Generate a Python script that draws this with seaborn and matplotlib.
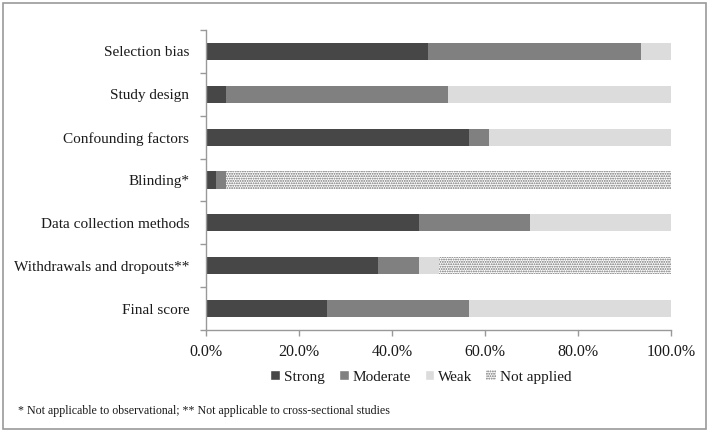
import numpy as np
import pandas as pd
import seaborn as sns
import matplotlib.pyplot as plt
from matplotlib.patches import Patch, Rectangle

# Quality assessment domains (top to bottom)
domains = ['Selection bias', 'Study design', 'Confounding factors', 'Blinding*',
           'Data collection methods', 'Withdrawals and dropouts**', 'Final score']

# Percentage of studies per rating
strong = [47.8, 4.3, 56.5, 2.2, 45.7, 37.0, 26.1]
moderate = [45.7, 47.8, 4.3, 2.2, 23.9, 8.7, 30.4]
weak = [6.5, 47.8, 39.1, 0.0, 30.4, 4.3, 43.5]
not_applied = [0.0, 0.0, 0.0, 95.6, 0.0, 50.0, 0.0]

ratings = ['Strong', 'Moderate', 'Weak', 'Not applied']
colors = {'Strong': '#474747', 'Moderate': '#808080', 'Weak': '#dcdcdc', 'Not applied': 'white'}

df = pd.DataFrame({'domain': domains, 'Strong': strong, 'Moderate': moderate,
                   'Weak': weak, 'Not applied': not_applied})
# cumulative widths so the bars can be drawn back-to-front as a stack
cum = df[ratings].cumsum(axis=1)
cum['domain'] = df['domain']

sns.set_style('white')
plt.rcParams['font.family'] = ['Liberation Serif', 'DejaVu Serif']
plt.rcParams['hatch.linewidth'] = 0.9

fig = plt.figure(figsize=(7.09, 4.32), dpi=100)
ax = fig.add_axes([0.2906, 0.2361, 0.6558, 0.6944])

for r in reversed(ratings):
    if r == 'Not applied':
        sns.barplot(data=cum, x=r, y='domain', orient='h', color='white', width=0.4,
                    edgecolor='#6e6e6e', linewidth=0, hatch='.......', ax=ax)
    else:
        sns.barplot(data=cum, x=r, y='domain', orient='h', color=colors[r], width=0.4,
                    saturation=1, linewidth=0, ax=ax)

ax.set_xlim(0, 100)
ax.set_ylim(len(domains) - 0.5, -0.5)
ax.set_xticks(np.arange(0, 101, 20))
ax.set_xticklabels([f'{v:.1f}%' for v in np.arange(0, 101, 20)], fontsize=11.5, color='#1a1a1a')
ax.set_yticks(np.arange(len(domains)))
ax.set_yticklabels(domains, fontsize=11, color='#1a1a1a')
ax.set_yticks(np.arange(-0.5, len(domains)), minor=True)
ax.tick_params(axis='y', which='major', length=0, pad=12)
ax.tick_params(axis='y', which='minor', length=4, color='#999999', width=1, left=True)
ax.tick_params(axis='x', length=4, color='#999999', width=1, bottom=True, pad=6)
ax.set_xlabel('')
ax.set_ylabel('')
for s in ['top', 'right']:
    ax.spines[s].set_visible(False)
for s in ['left', 'bottom']:
    ax.spines[s].set_color('#999999')
    ax.spines[s].set_linewidth(1)

handles = [Patch(facecolor=colors['Strong'], label='Strong'),
           Patch(facecolor=colors['Moderate'], label='Moderate'),
           Patch(facecolor=colors['Weak'], label='Weak'),
           Patch(facecolor='white', edgecolor='#6e6e6e', linewidth=0, hatch='.......', label='Not applied')]
fig.legend(handles=handles, loc='center', bbox_to_anchor=(421 / 709, 1 - 377 / 432), ncol=4,
           frameon=False, fontsize=11, handlelength=0.65, handleheight=0.65,
           handletextpad=0.25, columnspacing=0.9, labelcolor='#1a1a1a')

fig.text(18 / 709, 1 - 411 / 432,
         '* Not applicable to observational; ** Not applicable to cross-sectional studies',
         fontsize=8.6, va='center', ha='left', color='#1a1a1a')

# outer frame
fig.patches.append(Rectangle((0.004, 0.006), 0.992, 0.988, transform=fig.transFigure,
                             fill=False, edgecolor='#9a9a9a', linewidth=1.2))

fig.savefig('out.png', dpi=100)
